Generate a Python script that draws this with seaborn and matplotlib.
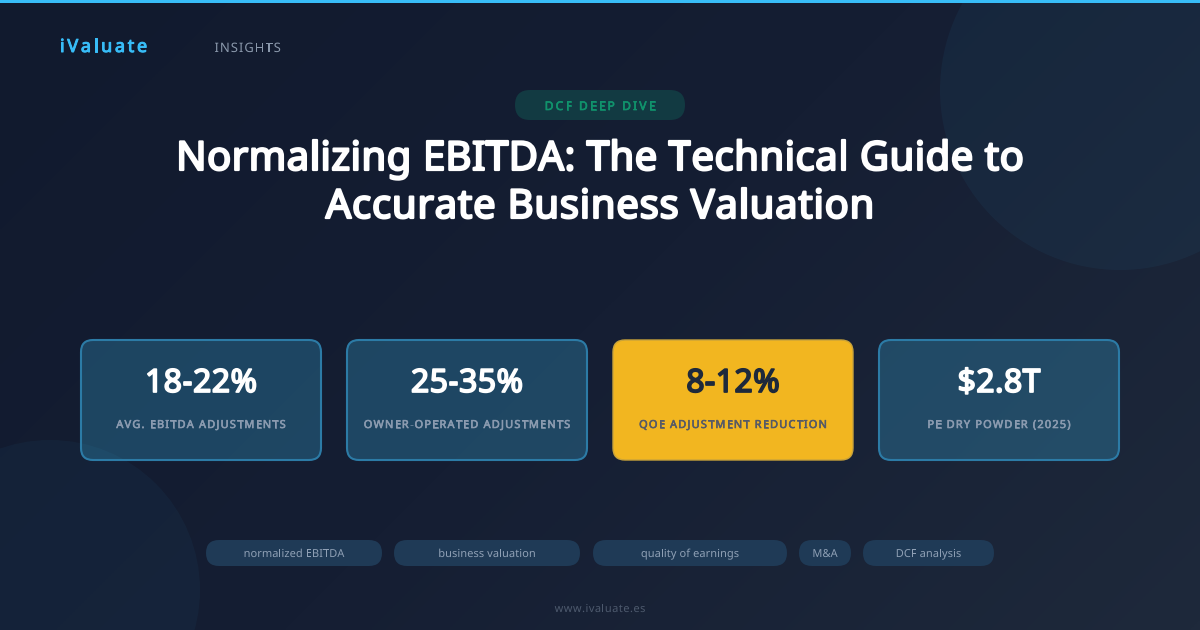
import numpy as np
import matplotlib
matplotlib.use("Agg")
import matplotlib.pyplot as plt
import matplotlib.patheffects as pe
from matplotlib.patches import Circle, FancyBboxPatch, Rectangle
from matplotlib.text import Text
from matplotlib.transforms import IdentityTransform
import seaborn as sns

# ---- content ----
brand = "iValuate"
section = "INSIGHTS"
badge = "DCF DEEP DIVE"
title_lines = ["Normalizing EBITDA: The Technical Guide to", "Accurate Business Valuation"]
stat_values = ["18-22%", "25-35%", "8-12%", "$2.8T"]
stat_labels = ["AVG. EBITDA ADJUSTMENTS", "OWNER-OPERATED ADJUSTMENTS",
               "QOE ADJUSTMENT REDUCTION", "PE DRY POWDER (2025)"]
highlighted = "8-12%"
tags = ["normalized EBITDA", "business valuation", "quality of earnings", "M&A", "DCF analysis"]
footer = "www.ivaluate.es"

# ---- layout ----
W, H = 1200, 630
card_x0, card_step, card_w, card_y, card_h = 81, 266, 240, 340, 120
tag_edges = [(206, 382), (394, 580), (593, 787), (799, 851), (863, 994)]

sns.set_theme(style="dark")
plt.rcParams["font.family"] = ["Noto Sans", "DejaVu Sans"]
plt.rcParams["text.hinting"] = "none"
plt.rcParams["text.hinting_factor"] = 1


class SpacedText(Text):
    """A single text whose glyphs are drawn with CSS-like letter spacing (px)."""

    def __init__(self, x, y, s, spacing=0.0, **kw):
        super().__init__(x, y, s, **kw)
        self.spacing = spacing

    def draw(self, renderer):
        s = self.get_text()
        fp = self.get_fontproperties()
        width = lambda t: renderer.get_text_width_height_descent(t, fp, False)[0] if t else 0.0
        total = width(s) + self.spacing * (len(s) - 1)
        x0, y0 = self.get_transform().transform(self.get_position())
        left = {"left": x0, "center": x0 - total / 2, "right": x0 - total}[self.get_ha()]
        for i, ch in enumerate(s):
            g = Text(left + width(s[:i]) + self.spacing * i, y0, ch, transform=IdentityTransform(),
                     ha="left", va="baseline", fontproperties=fp, color=self.get_color(),
                     path_effects=self.get_path_effects())
            g.set_figure(self.get_figure())
            g.draw(renderer)


fig = plt.figure(figsize=(12, 6.3), dpi=100)
ax = fig.add_axes([0, 0, 1, 1])
ax.set_xlim(0, W)
ax.set_ylim(H, 0)
ax.axis("off")

# Background: 135deg gradient
u, v = np.meshgrid(np.linspace(0, 1, 400), np.linspace(0, 1, 210))
grad = (u * W + v * H) / (W + H)
cmap = sns.blend_palette(["#111a2e", "#151e33", "#1e293b"], as_cmap=True)
ax.imshow(grad, extent=[0, W, H, 0], cmap=cmap, vmin=0, vmax=1, aspect="auto", zorder=0)

# Decorative circles
ax.add_patch(Circle((1120, 90), 180, fc="#38bdf8", alpha=0.05, ec="none", zorder=1))
ax.add_patch(Circle((50, 590), 150, fc="#38bdf8", alpha=0.045, ec="none", zorder=1))

# Top bar
ax.add_patch(Rectangle((0, 0), W, 3, fc="#38bdf8", ec="none", zorder=2))


def pill(x0, y0, w, h, r, fc, ec="none", lw=0, zorder=2):
    ax.add_patch(FancyBboxPatch((x0, y0), w, h, boxstyle=f"round,pad=0,rounding_size={r}",
                                fc=fc, ec=ec, lw=lw, zorder=zorder))


def text(x, y, s, px, color, bold=False, ha="center", spacing=0.0):
    # Path rendering gives sub-pixel glyph placement
    effects = [pe.Normal()]
    if bold:
        # Noto Sans is installed as a variable font that matplotlib only reads at regular weight
        effects = [pe.withStroke(linewidth=px * 0.72 * 0.055, foreground=color)]
        spacing += px * 0.0128
    ax.add_artist(SpacedText(x, y, s, spacing=spacing, transform=ax.transData, fontsize=px * 0.72,
                             color=color, ha=ha, va="baseline", path_effects=effects, zorder=5))


# Header
text(60, 52, brand, 18, "#38bdf8", True, "left", 2.5)
text(214.5, 52, section, 13, "#8a98ab", False, "left", 1)

# Badge
pill(515, 90, 170, 30, 15, "#123a42")
text(600, 110, badge, 12, "#10936c", True, spacing=2)

# Title
text(600, 170, title_lines[0], 40, "#ffffff", True)
text(600, 218, title_lines[1], 40, "#ffffff", True, spacing=0.25)

# Stat cards
for i, (val, lab) in enumerate(zip(stat_values, stat_labels)):
    x = card_x0 + i * card_step
    if val == highlighted:
        pill(x, card_y, card_w, card_h, 12, "#f2b620", "#c9a33a", 1.0, zorder=3)
        vc, lc = "#1e293b", "#565a66"
    else:
        pill(x, card_y, card_w, card_h, 12, (0.24, 0.74, 0.94, 0.26), "#2c7ba6", 1.5, zorder=3)
        vc, lc = "#ffffff", "#8b9bb0"
    text(x + card_w / 2, 392, val, 32, vc, True)
    text(x + card_w / 2, 428, lab, 11, lc, True, spacing=1.05)

# Tags
for s, (a, b) in zip(tags, tag_edges):
    pill(a, 540, b - a, 26, 13, "#1f3a56")
    text((a + b) / 2, 557, s, 11, "#8fa0b5", spacing=0.1)

# Footer
text(600, 612, footer, 11, "#4d596d", spacing=0.5)

fig.savefig("out.png", dpi=100)
